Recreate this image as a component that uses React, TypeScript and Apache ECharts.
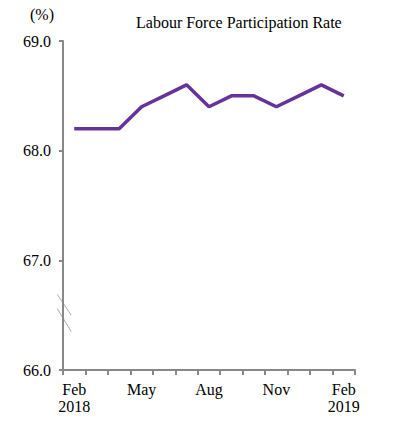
import React, { useEffect, useRef } from "react";
import * as echarts from "echarts";

const months = ["Feb\n2018", "Mar", "Apr", "May", "Jun", "Jul", "Aug", "Sep", "Oct", "Nov", "Dec", "Jan", "Feb\n2019"];
const rate = [68.2, 68.2, 68.2, 68.4, 68.5, 68.6, 68.4, 68.5, 68.5, 68.4, 68.5, 68.6, 68.5];
const yMin = 66;
const yMax = 69;
const title = "Labour Force Participation Rate";
const unit = "(%)";

const FONT = "'Liberation Serif', 'Times New Roman', serif";

export default function App() {
  const ref = useRef<HTMLDivElement>(null);
  useEffect(() => {
    if (!ref.current) return;
    const chart = echarts.init(ref.current, null, { renderer: "svg" });
    const texts = [
      {
        type: "text",
        left: 136,
        top: 14,
        style: { text: title, font: `16px ${FONT}`, fill: "#000" },
      },
      {
        type: "text",
        left: 30,
        top: 6,
        style: { text: unit, font: `16px ${FONT}`, fill: "#000" },
      },
    ];
    chart.setOption({
      animation: false,
      backgroundColor: "#fff",
      grid: { left: 63, top: 41, right: 39, bottom: 71, containLabel: false },
      graphic: texts,
      xAxis: {
        type: "category",
        data: months,
        boundaryGap: true,
        axisLine: { lineStyle: { color: "#888", width: 2 } },
        axisTick: { show: true, interval: 0, length: 5, lineStyle: { color: "#888", width: 2 } },
        axisLabel: {
          interval: 2,
          margin: 11,
          color: "#000",
          fontFamily: FONT,
          fontSize: 16,
          lineHeight: 17,
        },
        splitLine: { show: false },
      },
      yAxis: {
        type: "value",
        min: yMin,
        max: yMax,
        interval: 1,
        axisLine: { show: true, lineStyle: { color: "#888", width: 2 } },
        axisTick: { show: true, length: 4, lineStyle: { color: "#888", width: 2 } },
        axisLabel: {
          margin: 12,
          color: "#000",
          fontFamily: FONT,
          fontSize: 16,
          formatter: (v: number) => v.toFixed(1),
        },
        splitLine: { show: false },
      },
      series: [
        {
          type: "line",
          data: rate,
          symbol: "none",
          lineStyle: { color: "#663399", width: 3.5 },
          itemStyle: { color: "#663399" },
        },
      ],
    });
    const ax = chart.convertToPixel({ xAxisIndex: 0 }, 0) as number;
    const p0 = chart.convertToPixel({ yAxisIndex: 0 }, 66.69) as number;
    const p1 = chart.convertToPixel({ yAxisIndex: 0 }, 66.5) as number;
    const p2 = chart.convertToPixel({ yAxisIndex: 0 }, 66.56) as number;
    const p3 = chart.convertToPixel({ yAxisIndex: 0 }, 66.35) as number;
    const axisX = ax - 11;
    chart.setOption({
      graphic: [
        ...texts,
        {
          type: "line",
          shape: { x1: axisX - 6, y1: p0, x2: axisX + 8, y2: p1 },
          style: { stroke: "#aaa", lineWidth: 1 },
        },
        {
          type: "line",
          shape: { x1: axisX - 6, y1: p2, x2: axisX + 8, y2: p3 },
          style: { stroke: "#aaa", lineWidth: 1 },
        },
      ],
    });
    return () => chart.dispose();
  }, []);
  return <div ref={ref} style={{ width: 394, height: 441, position: "absolute", left: 0, top: 0 }} />;
}
